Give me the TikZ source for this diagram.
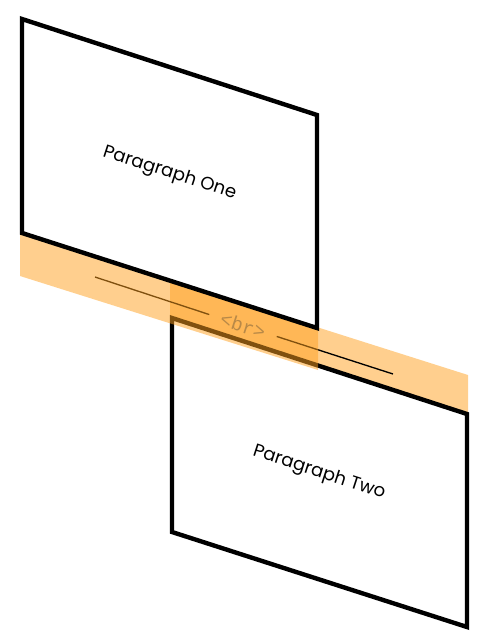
\documentclass[tikz,border=0pt]{standalone}
\usepackage{fontspec}
\setmainfont{Poppins}
\setmonofont{Liberation Mono}
\definecolor{bandorange}{RGB}{255,160,30}
\tikzset{
  pane/.style={line width=3.3pt},
  band/.style={fill=bandorange,fill opacity=0.5},
  caption/.style={rotate=-18,font=\fontsize{13.6}{16}\selectfont}
}
\begin{document}
\begin{tikzpicture}[x=0.75pt,y=-0.75pt]
  \useasboundingbox (0,0) rectangle (482,640);
  % lower pane and its band
  \fill[band] (170,280.5) -- (468,375) -- (468,415) -- (170,317.5) -- cycle;
  \draw[pane] (172,318) -- (467,414) -- (467,627) -- (172,532) -- cycle;
  \node[caption] (two) at (319,473) {Paragraph Two};
  % the break between them
  \coordinate (la) at (95,277);
  \coordinate (lb) at (393,374);
  \node[rotate=-18,text=black!55,inner xsep=9pt,font=\ttfamily\fontsize{14.5}{16}\selectfont] (br) at (243,325.5) {<br>};
  \draw[line width=1pt] (la) -- (br.west);
  \draw[line width=1pt] (br.east) -- (lb);
  % upper pane and its band
  \fill[band] (20,232.5) -- (318,328.5) -- (318,370) -- (20,276) -- cycle;
  \draw[pane] (22,19) -- (317,115) -- (317,328) -- (22,233) -- cycle;
  \node[caption] (one) at (169.5,173.5) {Paragraph One};
\end{tikzpicture}
\end{document}
